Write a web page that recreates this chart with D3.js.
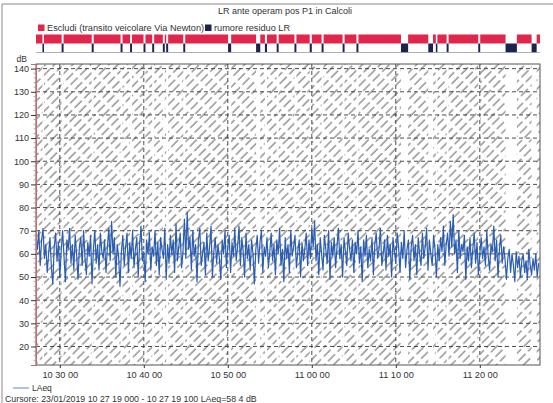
<!DOCTYPE html>
<html>
<head>
<meta charset="utf-8">
<script src="https://cdn.jsdelivr.net/npm/d3@7"></script>
<style>
  body { margin: 0; background: #fff; }
  svg { display: block; font-family: "Liberation Sans", Arial, sans-serif; }
</style>
</head>
<body>
<div id="chart"></div>
<script>
// chart texts
const title = 'LR ante operam pos P1 in Calcoli';
const legendExcl = 'Escludi (transito veicolare Via Newton)';
const legendResid = 'rumore residuo LR';
const seriesName = 'LAeq';
const cursorText = 'Cursore: 23/01/2019 10 27 19 000 - 10 27 19 100  LAeq=58 4 dB';

// time window and axis ticks
const timeStart = '10:27:10';
const timeEnd = '11:27:10';
const timeTicks = ['10:30:00', '10:40:00', '10:50:00', '11:00:00', '11:10:00', '11:20:00'];
const dbTicks = [20, 30, 40, 50, 60, 70, 80, 90, 100, 110, 120, 130, 140];
const dbDomain = [12, 142];
const sampleStep = 10; // seconds between LAeq samples

// periods marked "rumore residuo LR" (everything else is "Escludi")
const residual = [
  ['10:27:56', '10:28:07'], ['10:30:13', '10:30:27'], ['10:33:48', '10:34:02'],
  ['10:37:14', '10:37:28'], ['10:38:22', '10:38:36'], ['10:39:58', '10:40:12'],
  ['10:41:00', '10:41:14'], ['10:42:16', '10:42:30'], ['10:42:40', '10:42:54'],
  ['10:44:42', '10:44:56'], ['10:50:02', '10:50:24'], ['10:53:22', '10:53:52'],
  ['10:54:25', '10:54:40'], ['10:55:49', '10:56:03'], ['10:57:56', '10:58:10'],
  ['10:59:45', '11:00:00'], ['11:01:10', '11:01:24'], ['11:03:40', '11:03:54'],
  ['11:05:19', '11:05:33'], ['11:10:37', '11:11:28'], ['11:13:52', '11:14:26'],
  ['11:14:46', '11:14:57'], ['11:16:03', '11:16:17'], ['11:19:49', '11:20:03'],
  ['11:23:04', '11:24:25'], ['11:26:10', '11:26:46']
];

// LAeq values, dB, one every 10 s from 10:27:10
const laeq = [
  68,62,70,55,66,71,58,64,52,60,67,54,
  47,63,69,57,65,50,61,70,59,48,66,62,
  71,56,64,53,68,60,49,63,67,55,70,58,
  51,65,59,68,47,62,70,56,64,53,69,61,
  58,66,52,63,71,57,74,60,67,50,64,59,
  46,61,68,55,63,69,52,65,58,70,54,62,
  67,50,64,72,57,61,48,66,60,69,53,63,
  59,70,55,65,51,67,62,58,71,49,64,56,
  68,60,66,52,73,57,63,69,54,61,75,58,
  78,62,67,53,70,59,64,48,66,71,55,60,
  65,51,69,57,63,72,50,61,67,56,64,58,
  49,66,60,70,54,63,68,52,65,59,71,57,
  63,72,55,67,61,50,69,58,64,53,66,60,
  47,62,68,56,65,70,52,63,59,67,54,61,
  69,57,64,51,66,60,71,55,62,48,67,58,
  64,52,70,59,63,68,54,61,66,50,65,57,
  62,69,55,66,58,71,63,74,57,64,51,67,
  60,53,68,62,56,70,49,65,59,67,54,63,
  71,58,64,50,67,61,55,69,62,57,66,52,
  65,60,70,56,63,48,66,59,68,54,62,57,
  67,51,64,69,58,62,71,55,60,66,53,68,
  59,64,50,67,61,56,69,63,52,65,58,70,
  54,62,66,49,63,68,57,64,51,67,60,55,
  69,58,63,71,53,66,60,55,68,62,50,64,
  57,67,61,72,55,64,69,59,74,63,77,60,
  66,52,70,58,64,61,68,49,63,57,67,54,
  62,69,56,65,51,60,67,58,63,55,70,59,
  53,64,61,72,57,66,50,62,68,56,63,58,
  49,58,62,52,60,55,48,61,54,59,50,57,
  60,52,57,49,62,55,51,58,53,60,50,56
];

(function () {
    const W = 553, H = 403;
    const plot = { left: 36, right: 540, top: 64, bottom: 365 };
    const font = '"Liberation Sans", Arial, sans-serif';
    const parseT = d3.timeParse('%H:%M:%S');
    const fmtT = d3.timeFormat('%H %M %S');

    const t0 = parseT(timeStart);
    const t1 = parseT(timeEnd);

    const x = d3.scaleTime().domain([t0, t1]).range([plot.left, plot.right]);
    const y = d3.scaleLinear().domain(dbDomain).range([plot.bottom, plot.top]);

    const resid = residual.map(r => [parseT(r[0]), parseT(r[1])]);
    // complement: excluded periods
    const excl = [];
    let cur = t0;
    resid.forEach(r => {
        if (r[0] > cur) excl.push([cur, r[0]]);
        cur = r[1];
    });
    if (cur < t1) excl.push([cur, t1]);

    const series = laeq.map((v, i) => ({ t: d3.timeSecond.offset(t0, i * sampleStep), v: v }));

    const svg = d3.select('#chart').append('svg')
        .attr('width', W).attr('height', H)
        .attr('viewBox', `0 0 ${W} ${H}`);

    // hatch pattern
    const defs = svg.append('defs');
    const pat = defs.append('pattern')
        .attr('id', 'hatch')
        .attr('patternUnits', 'userSpaceOnUse')
        .attr('width', 6.4).attr('height', 13.5)
        .attr('patternTransform', 'rotate(45)');
    pat.append('line')
        .attr('x1', 1).attr('y1', 0).attr('x2', 1).attr('y2', 10)
        .attr('stroke', '#3c3c3c').attr('stroke-width', 0.85);
    defs.append('clipPath').attr('id', 'plotclip')
        .append('rect')
        .attr('x', plot.left).attr('y', plot.top)
        .attr('width', plot.right - plot.left).attr('height', plot.bottom - plot.top);

    // outer frame
    svg.append('path')
        .attr('d', `M2,${H + 2} L2,4 L${W + 2},4`)
        .attr('fill', 'none').attr('stroke', '#8a8a8a').attr('stroke-width', 1);

    // title
    svg.append('text')
        .attr('x', 285).attr('y', 14)
        .attr('text-anchor', 'middle')
        .attr('font-size', 9).attr('fill', '#333')
        .text(title);

    // top legend
    const lg = svg.append('g').attr('font-size', 9.2).attr('fill', '#333');
    lg.append('rect').attr('x', 38).attr('y', 24.5).attr('width', 6.5).attr('height', 6.5).attr('fill', '#e0264a');
    lg.append('text').attr('x', 47).attr('y', 31).text(legendExcl);
    lg.append('rect').attr('x', 205).attr('y', 24.5).attr('width', 6.5).attr('height', 6.5).attr('fill', '#1c2350');
    lg.append('text').attr('x', 214).attr('y', 31).text(legendResid);

    // status bars
    const barTop = 34.5, barH = 9;
    svg.append('g').selectAll('rect')
        .data(excl).enter().append('rect')
        .attr('x', d => x(d[0]))
        .attr('width', d => Math.max(0.5, x(d[1]) - x(d[0])))
        .attr('y', barTop).attr('height', barH)
        .attr('fill', '#e0264a');
    svg.append('g').selectAll('rect')
        .data(resid).enter().append('rect')
        .attr('x', d => x(d[0]))
        .attr('width', d => Math.max(1, x(d[1]) - x(d[0])))
        .attr('y', barTop + barH).attr('height', barH)
        .attr('fill', '#1c2350');
    svg.append('line')
        .attr('x1', plot.left).attr('x2', plot.right)
        .attr('y1', barTop + 2 * barH).attr('y2', barTop + 2 * barH)
        .attr('stroke', '#9a9aa8').attr('stroke-width', 0.8);

    // hatched excluded periods
    svg.append('g').selectAll('rect')
        .data(excl).enter().append('rect')
        .attr('x', d => x(d[0]))
        .attr('width', d => x(d[1]) - x(d[0]))
        .attr('y', plot.top).attr('height', plot.bottom - plot.top)
        .attr('fill', 'url(#hatch)');

    // grid
    const grid = svg.append('g')
        .attr('stroke', '#3a3a3a').attr('stroke-width', 0.9)
        .attr('stroke-dasharray', '4,3');
    grid.selectAll('.gy').data(dbTicks).enter().append('line')
        .attr('x1', plot.left).attr('x2', plot.right)
        .attr('y1', d => y(d)).attr('y2', d => y(d));
    grid.selectAll('.gx').data(timeTicks.map(parseT)).enter().append('line')
        .attr('y1', plot.top).attr('y2', plot.bottom)
        .attr('x1', d => x(d)).attr('x2', d => x(d));

    // LAeq line
    const line = d3.line().x(d => x(d.t)).y(d => y(d.v));
    svg.append('path')
        .datum(series)
        .attr('clip-path', 'url(#plotclip)')
        .attr('d', line)
        .attr('fill', 'none')
        .attr('stroke', '#2a5db2').attr('stroke-width', 1.2)
        .attr('stroke-linejoin', 'round');

    // plot border
    svg.append('rect')
        .attr('x', plot.left).attr('y', plot.top)
        .attr('width', plot.right - plot.left).attr('height', plot.bottom - plot.top)
        .attr('fill', 'none').attr('stroke', '#555').attr('stroke-width', 1);

    // y axis
    const yAxis = d3.axisLeft(y).tickValues(dbTicks).tickSize(5).tickPadding(2);
    const gy = svg.append('g').attr('transform', `translate(${plot.left},0)`).call(yAxis);
    gy.select('.domain').attr('stroke', '#c86a6a');
    gy.selectAll('.tick line').attr('stroke', '#333');
    gy.selectAll('.tick text').attr('font-size', 9).attr('fill', '#333')
        .attr('font-family', font);
    // minor red ticks
    svg.append('g').selectAll('line')
        .data(d3.range(14, 142, 2).filter(v => v % 10 !== 0)).enter().append('line')
        .attr('x1', plot.left - 2.5).attr('x2', plot.left)
        .attr('y1', d => y(d)).attr('y2', d => y(d))
        .attr('stroke', '#d08080').attr('stroke-width', 0.8);
    svg.append('text')
        .attr('x', 27).attr('y', 62)
        .attr('text-anchor', 'end')
        .attr('font-size', 8.5).attr('fill', '#333')
        .text('dB');

    // x axis
    const xAxis = d3.axisBottom(x).tickValues(timeTicks.map(parseT)).tickFormat(fmtT).tickSize(3).tickPadding(3);
    const gx = svg.append('g').attr('transform', `translate(0,${plot.bottom})`).call(xAxis);
    gx.select('.domain').remove();
    gx.selectAll('.tick line').attr('stroke', '#333');
    gx.selectAll('.tick text').attr('font-size', 9.2).attr('fill', '#333')
        .attr('font-family', font);

    // bottom legend
    svg.append('line')
        .attr('x1', 13).attr('x2', 29).attr('y1', 388).attr('y2', 388)
        .attr('stroke', '#5b8ad0').attr('stroke-width', 1);
    svg.append('text')
        .attr('x', 32).attr('y', 391)
        .attr('font-size', 8.5).attr('fill', '#333')
        .text(seriesName);

    svg.append('text')
        .attr('x', 5).attr('y', 402)
        .attr('font-size', 8.8).attr('fill', '#333')
        .text(cursorText);
})();
</script>
</body>
</html>
